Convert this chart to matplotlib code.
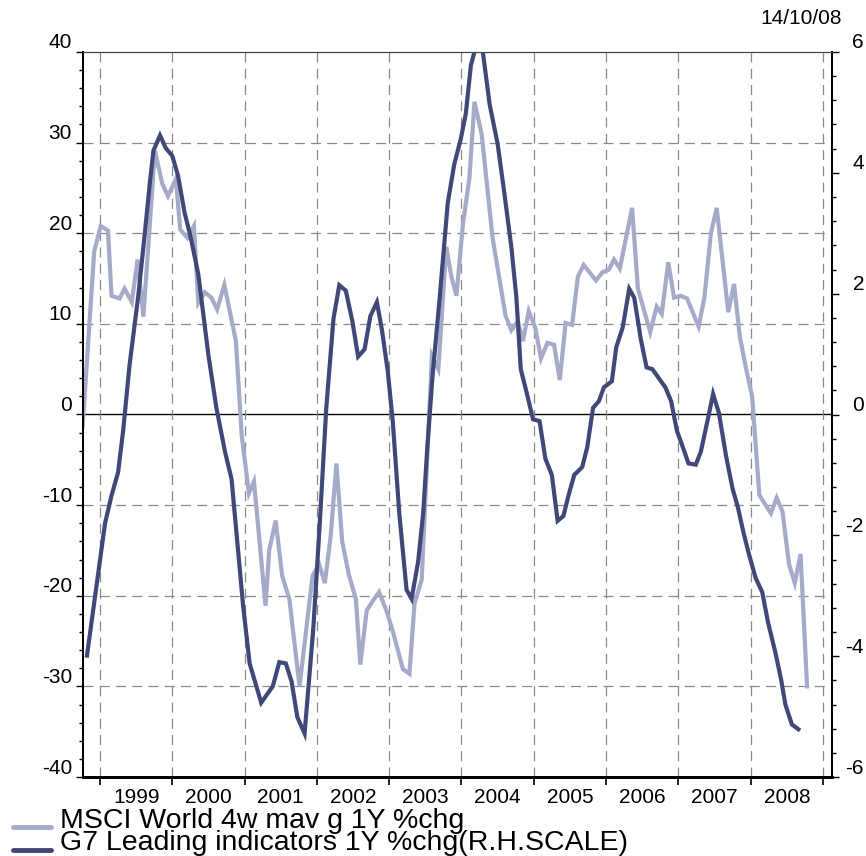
import matplotlib
matplotlib.use('Agg')
import matplotlib.pyplot as plt
from matplotlib.lines import Line2D
from matplotlib.ticker import MultipleLocator, FixedLocator, NullFormatter
import matplotlib.transforms as mtransforms

plt.rcParams['font.family'] = ['Liberation Sans', 'DejaVu Sans']

# MSCI World 4w moving avg, 1Y % change (left scale)
msci_dates = [1998.76, 1998.92, 1999.01, 1999.11, 1999.16, 1999.27, 1999.34, 1999.44, 1999.52, 1999.60,
              1999.76, 1999.86, 1999.94, 2000.05, 2000.11, 2000.21, 2000.30, 2000.36, 2000.45, 2000.54,
              2000.62, 2000.72, 2000.88, 2000.96, 2001.06, 2001.13, 2001.29, 2001.34, 2001.43, 2001.52,
              2001.62, 2001.76, 2001.94, 2002.03, 2002.11, 2002.19, 2002.27, 2002.35, 2002.44, 2002.54,
              2002.60, 2002.69, 2002.77, 2002.86, 2002.96, 2003.05, 2003.19, 2003.28, 2003.35, 2003.45,
              2003.59, 2003.68, 2003.79, 2003.86, 2003.93, 2004.02, 2004.11, 2004.18, 2004.28, 2004.43,
              2004.61, 2004.69, 2004.78, 2004.85, 2004.93, 2005.02, 2005.10, 2005.19, 2005.28, 2005.36,
              2005.44, 2005.53, 2005.61, 2005.69, 2005.77, 2005.86, 2005.95, 2006.04, 2006.11, 2006.19,
              2006.36, 2006.44, 2006.61, 2006.70, 2006.77, 2006.86, 2006.94, 2007.03, 2007.12, 2007.28,
              2007.36, 2007.45, 2007.53, 2007.69, 2007.77, 2007.85, 2007.93, 2008.02, 2008.12, 2008.20,
              2008.28, 2008.36, 2008.44, 2008.53, 2008.61, 2008.69, 2008.78]
msci_values = [-1.3, 18.0, 20.8, 20.3, 13.1, 12.8, 13.9, 12.4, 17.1, 10.8,
               29.1, 25.5, 24.1, 26.0, 20.4, 19.5, 20.8, 12.3, 13.5, 12.9,
               11.6, 14.3, 8.1, -2.3, -8.7, -7.4, -21.1, -15.0, -11.7, -17.8,
               -20.4, -30.0, -17.8, -16.5, -18.6, -13.5, -5.4, -14.0, -17.6, -20.4,
               -27.6, -21.6, -20.6, -19.6, -21.6, -23.9, -28.1, -28.6, -20.9, -18.2,
               6.5, 5.0, 18.5, 15.2, 13.1, 21.0, 26.1, 34.5, 30.9, 19.5,
               10.9, 9.3, 10.3, 8.1, 11.4, 9.6, 6.2, 7.9, 7.7, 3.8,
               10.1, 9.9, 15.2, 16.5, 15.7, 14.8, 15.7, 16.0, 17.1, 16.1,
               22.8, 13.9, 9.1, 11.9, 11.1, 16.8, 12.9, 13.1, 12.8, 9.7,
               12.9, 20.0, 22.8, 11.3, 14.4, 8.6, 5.3, 2.0, -8.9, -9.9,
               -10.9, -9.2, -10.7, -16.5, -18.6, -15.4, -30.0]

# G7 leading indicators, 1Y % change (right scale)
g7_dates = [1998.82, 1999.07, 1999.16, 1999.25, 1999.32, 1999.41, 1999.53, 1999.62, 1999.69, 1999.74,
            1999.83, 1999.91, 2000.00, 2000.08, 2000.17, 2000.25, 2000.36, 2000.50, 2000.61, 2000.73,
            2000.82, 2000.98, 2001.07, 2001.23, 2001.30, 2001.39, 2001.48, 2001.57, 2001.65, 2001.73,
            2001.83, 2001.95, 2002.04, 2002.13, 2002.23, 2002.31, 2002.40, 2002.49, 2002.57, 2002.66,
            2002.74, 2002.83, 2002.90, 2002.98, 2003.05, 2003.14, 2003.24, 2003.31, 2003.40, 2003.47,
            2003.53, 2003.60, 2003.70, 2003.81, 2003.90, 2003.99, 2004.06, 2004.13, 2004.19, 2004.29,
            2004.39, 2004.50, 2004.59, 2004.69, 2004.76, 2004.82, 2004.90, 2004.99, 2005.08, 2005.16,
            2005.25, 2005.33, 2005.41, 2005.48, 2005.56, 2005.67, 2005.74, 2005.82, 2005.90, 2005.97,
            2006.08, 2006.14, 2006.23, 2006.32, 2006.39, 2006.48, 2006.56, 2006.64, 2006.73, 2006.82,
            2006.90, 2006.98, 2007.05, 2007.14, 2007.24, 2007.31, 2007.40, 2007.48, 2007.56, 2007.66,
            2007.75, 2007.82, 2007.90, 2007.98, 2008.07, 2008.16, 2008.24, 2008.34, 2008.42, 2008.48,
            2008.57, 2008.66]
g7_values = [-3.99, -1.80, -1.34, -0.96, -0.27, 0.83, 1.97, 3.00, 3.84, 4.37,
             4.62, 4.41, 4.28, 3.95, 3.34, 2.96, 2.32, 0.98, 0.11, -0.62,
             -1.07, -3.17, -4.12, -4.77, -4.65, -4.50, -4.10, -4.12, -4.42, -5.01,
             -5.28, -3.55, -1.80, 0.11, 1.59, 2.14, 2.05, 1.55, 0.96, 1.08,
             1.63, 1.86, 1.40, 0.72, -0.12, -1.64, -2.90, -3.05, -2.44, -1.64,
             -0.50, 0.64, 1.95, 3.50, 4.14, 4.56, 4.98, 5.78, 6.05, 6.05,
             5.13, 4.48, 3.69, 2.77, 1.93, 0.75, 0.37, -0.08, -0.11, -0.73,
             -1.00, -1.76, -1.68, -1.34, -1.00, -0.87, -0.54, 0.11, 0.22, 0.45,
             0.55, 1.11, 1.44, 2.08, 1.93, 1.25, 0.78, 0.75, 0.60, 0.45,
             0.22, -0.27, -0.50, -0.81, -0.83, -0.62, -0.12, 0.34, 0.03, -0.69,
             -1.23, -1.52, -1.95, -2.33, -2.71, -2.94, -3.44, -3.93, -4.38, -4.80,
             -5.13, -5.21]

years = list(range(1999, 2010))
year_labels = [str(y) for y in range(1999, 2009)]
left_ticks = [40, 30, 20, 10, 0, -10, -20, -30, -40]
right_ticks = [6, 4, 2, 0, -2, -4, -6]
series_labels = ['MSCI World 4w mav g 1Y %chg', 'G7 Leading indicators 1Y %chg(R.H.SCALE)']

LIGHT = '#a6aac9'
DARK = '#404878'
GRID = '#8a8a8a'

fig = plt.figure(figsize=(8.66, 8.56), dpi=100)
ax = fig.add_axes([83 / 866, 1 - 777 / 856, (832 - 83) / 866, (777 - 52) / 856])
ax2 = ax.twinx()

ax.set_xlim(1998.765, 2009.125)
ax.set_ylim(-40, 40)
ax2.set_ylim(-6, 6)

# grid (dashed), zero line solid
for v in left_ticks:
    if v in (40, -40):
        continue
    if v == 0:
        ax.axhline(0, color='black', lw=1.0, zorder=1)
    else:
        ax.axhline(v, color=GRID, lw=0.9, dashes=(8, 5), zorder=1)
for yr in years:
    ax.axvline(yr, color=GRID, lw=0.9, dashes=(8, 5), zorder=1)

ax.plot(msci_dates, msci_values, color=LIGHT, lw=3, solid_joinstyle='miter', zorder=2)
ax2.plot(g7_dates, g7_values, color=DARK, lw=3, solid_joinstyle='miter', zorder=3)

# x axis: ticks on year boundaries, labels mid-year
ax.xaxis.set_major_locator(FixedLocator(years))
ax.xaxis.set_major_formatter(NullFormatter())
ax.xaxis.set_minor_locator(FixedLocator([y + 0.5 for y in range(1999, 2009)]))
ax.set_xticklabels(year_labels, minor=True)
ax.tick_params(axis='x', which='major', direction='out', length=6, width=1.2, color='black')
ax.tick_params(axis='x', which='minor', length=0, labelsize=15, pad=8)

# y axes ticks; labels drawn by hand so they sit a bit above the ticks
ax.yaxis.set_major_locator(MultipleLocator(10))
ax.yaxis.set_minor_locator(MultipleLocator(2))
ax.tick_params(axis='y', which='major', direction='out', length=5, width=1, labelleft=False)
ax.tick_params(axis='y', which='minor', direction='out', length=3, width=1)
ax2.yaxis.set_major_locator(MultipleLocator(2))
ax2.yaxis.set_minor_locator(MultipleLocator(0.4))
ax2.tick_params(axis='y', which='major', direction='out', length=5, width=1, labelright=False)
ax2.tick_params(axis='y', which='minor', direction='out', length=3, width=1)

lt = mtransforms.offset_copy(ax.get_yaxis_transform(), fig=fig, x=-11, y=9, units='dots')
for v in left_ticks:
    ax.text(0, v, str(v), transform=lt, ha='right', va='center', fontsize=15)
rt = mtransforms.offset_copy(ax2.get_yaxis_transform(), fig=fig, x=32, y=9, units='dots')
for v in right_ticks:
    ax2.text(1, v, str(v), transform=rt, ha='right', va='center', fontsize=15, clip_on=False)

for a in (ax, ax2):
    a.spines['left'].set_linewidth(1.3)
    a.spines['right'].set_linewidth(1.3)
    a.spines['bottom'].set_linewidth(2)
    a.spines['top'].set_linewidth(0.8)
    a.spines['top'].set_color('#444444')

fig.text(842 / 866, 1 - 18 / 856, '14/10/08', ha='right', va='center', fontsize=15)

# legend under the plot: two handles plus one two-line label block (lines are packed tight)
for col, ypix in zip([LIGHT, DARK], [827, 850]):
    yf = 1 - ypix / 856
    fig.add_artist(Line2D([13 / 866, 51 / 866], [yf, yf], color=col, lw=3.5,
                          solid_capstyle='round', transform=fig.transFigure))
fig.text(60 / 866, 1 - 850 / 856, '\n'.join(series_labels), ha='left', va='baseline',
         fontsize=20.5, linespacing=0.82)

fig.savefig('out.png', dpi=100)
